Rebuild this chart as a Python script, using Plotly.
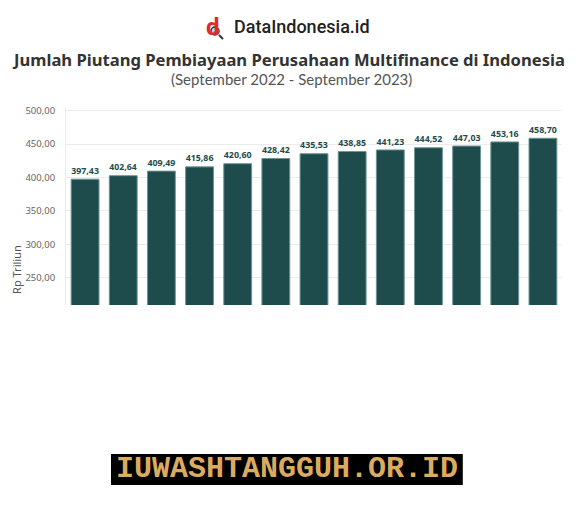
import plotly.graph_objects as go

# data
bulan = ["Sep 22", "Okt 22", "Nov 22", "Des 22", "Jan 23", "Feb 23", "Mar 23",
         "Apr 23", "Mei 23", "Jun 23", "Jul 23", "Agu 23", "Sep 23"]
piutang = [397.43, 402.64, 409.49, 415.86, 420.60, 428.42, 435.53,
           438.85, 441.23, 444.52, 447.03, 453.16, 458.70]
tick_vals = [250, 300, 350, 400, 450, 500]

BAR = "#1e4b4b"

fig = go.Figure()
fig.add_trace(go.Bar(
    x=bulan, y=piutang,
    marker=dict(color=BAR, line=dict(color="#6f9595", width=1)),
    width=0.73,
    texttemplate="%{y:.2f}", textposition="outside", cliponaxis=False,
    textfont=dict(family="Noto Sans", size=11, color=BAR, weight="bold"),
))

# page body has an 8px margin, so the figure is kept 16px smaller than the window
fig.update_layout(
    width=560, height=491,
    margin=dict(l=58, r=6, t=100, b=194),
    paper_bgcolor="white", plot_bgcolor="white",
    separators=",.",
    showlegend=False,
    font=dict(family="Noto Sans", color="#555"),
)
fig.update_xaxes(showticklabels=False, showgrid=False, zeroline=False)
fig.update_yaxes(
    range=[209, 504], tickvals=tick_vals, tickformat=".2f",
    tickfont=dict(family="Noto Sans", size=9.5, color="#666"),
    gridcolor="#ececec", showline=True, linecolor="#ececec", zeroline=False,
    ticks="", ticklabelstandoff=8, automargin=False,
)

def note(text, x, y, **font):
    fig.add_annotation(x=x, y=y, xref="paper", yref="paper", showarrow=False,
                       xanchor="center", yanchor="middle", text=text, font=font)

# y title
fig.add_annotation(x=-0.1, y=0.18, xref="paper", yref="paper", showarrow=False,
                   xanchor="center", yanchor="middle", textangle=-90,
                   text="Rp Triliun", font=dict(family="Noto Sans", size=11, color="#555"))

# header
note("<b>Jumlah Piutang Pembiayaan Perusahaan Multifinance di Indonesia</b>",
     0.4476, 1.2437, family="Noto Sans", size=16.6, color="#333")
note("(September 2022 - September 2023)", 0.454, 1.147,
     family="Lato", size=15, color="#555")
note("DataIndonesia.id", 0.476, 1.416, family="Roboto", size=18, color="#222", weight=500)
note("<b>d</b>", 0.2964, 1.411, family="Roboto", size=24, color="#e8262b")
fig.add_shape(type="line", xref="paper", yref="paper",
              x0=0.3085, x1=0.3165, y0=1.3706, y1=1.350,
              line=dict(color="#333", width=2))
fig.add_shape(type="circle", xref="paper", yref="paper",
              x0=0.2923, x1=0.3085, y0=1.3706, y1=1.411,
              line=dict(color="#333", width=1.5), fillcolor="#a8d8e0")

# watermark
fig.add_shape(type="rect", xref="paper", yref="paper",
              x0=0.0907, x1=0.800, y0=-0.914, y1=-0.756,
              line=dict(width=0), fillcolor="black")
note("IUWASHTANGGUH.OR.ID", 0.4456, -0.835,
     family="Liberation Mono", size=30, color="#dcab62", weight="bold")

fig.write_html("out.html")
